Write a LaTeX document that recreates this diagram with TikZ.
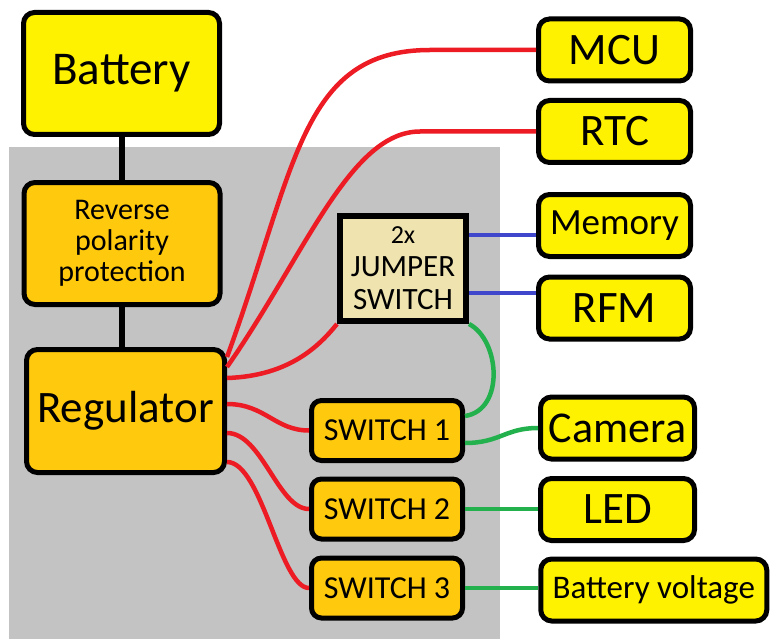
\documentclass[tikz,border=0pt]{standalone}
\usepackage{fontspec}
\setmainfont{Carlito}
\definecolor{pyellow}{HTML}{FFF200}
\definecolor{porange}{HTML}{FFC90E}
\definecolor{pbeige}{HTML}{EFE4B0}
\definecolor{pgray}{HTML}{C3C3C3}
\definecolor{pred}{HTML}{ED1C24}
\definecolor{pblue}{HTML}{3F48CC}
\definecolor{pgreen}{HTML}{22B14C}

\begin{document}
\begin{tikzpicture}[
  x=1pt, y=-1pt,
  blkY/.style={draw, line width=5pt, rounded corners=11pt, fill=pyellow, align=center, inner sep=0pt, minimum width=152pt, minimum height=62pt, font=\fontsize{45}{50}\selectfont},
  blkO/.style={draw, line width=5pt, rounded corners=11pt, fill=porange, align=center, inner sep=0pt, minimum width=196pt, minimum height=122pt},
  swbox/.style={draw, line width=5pt, rounded corners=10pt, fill=porange, align=center, inner sep=0pt, minimum width=151pt, minimum height=60pt, font=\fontsize{32}{34}\selectfont},
  jbox/.style={draw, line width=6pt, fill=pbeige, align=center, inner sep=0pt, minimum width=126pt, minimum height=105pt, font=\fontsize{31}{33}\selectfont},
  link/.style={line width=6pt},
  pwr/.style={line width=4.5pt, pred},
  bus/.style={line width=4.5pt, pblue},
  sig/.style={line width=4.5pt, pgreen},
]
\useasboundingbox (0,0) rectangle (770,639);
% ================= board =================
\fill[pgray] (9,147) rectangle (500,639);
% ================= power chain =================
\node[blkY, minimum width=196pt, minimum height=122pt, font=\fontsize{47}{50}\selectfont] (bat) at (121.5,73.5) {Battery};
\node[blkO, font=\fontsize{30}{31}\selectfont] (rpp) at (122,243.5) {Reverse\\polarity\\protection};
\node[blkO, minimum width=198pt, minimum height=123pt, font=\fontsize{45}{50}\selectfont] (reg) at (125.5,411) {Regulator};
\draw[link] (bat.south) -- (bat.south |- rpp.north);
\draw[link] (rpp.south) -- (rpp.south |- reg.north);
% ================= switches =================
\node[jbox] (jmp) at (403,268.5) {{\fontsize{26}{28}\selectfont 2x}\\[0pt]JUMPER\\SWITCH};
\node[swbox] (sw1) at (387,430.5) {SWITCH 1};
\node[swbox] (sw2) at (387,509) {SWITCH 2};
\node[swbox] (sw3) at (387,588) {SWITCH 3};
% ================= loads =================
\node[blkY] (mcu) at (614.5,50) {MCU};
\node[blkY] (rtc) at (614.5,131.5) {RTC};
\node[blkY, font=\fontsize{37}{40}\selectfont] (mem) at (614.5,225.5) {Memory};
\node[blkY] (rfm) at (614.5,308) {RFM};
\node[blkY, minimum width=154pt, font=\fontsize{44}{48}\selectfont] (cam) at (617.5,428) {Camera};
\node[blkY, minimum width=154pt] (led) at (617.5,509.5) {LED};
\node[blkY, minimum width=226pt, font=\fontsize{33}{36}\selectfont] (bv) at (653.75,590) {Battery voltage};
% ================= supply lines =================
\draw[pwr] (reg.east |- 0,357) .. controls (296,169) and (300,50) .. (430,50) -- (mcu.west);
\draw[pwr] (reg.east |- 0,367) .. controls (305,255) and (350,131.5) .. (420,131.5) -- (rtc.west);
\draw[pwr] (reg.east |- 0,378) .. controls (290,376) and (320,345) .. (jmp.south west);
\draw[pwr] (reg.east |- 0,404) .. controls (265,404) and (275,430.5) .. (sw1.west);
\draw[pwr] (reg.east |- 0,433) .. controls (262,433) and (278,509) .. (sw2.west);
\draw[pwr] (reg.east |- 0,462) .. controls (262,462) and (280,588) .. (sw3.west);
% ================= switched lines =================
\draw[bus] (jmp.east |- 0,235) -- (mem.west |- 0,235);
\draw[bus] (jmp.east |- 0,293) -- (rfm.west |- 0,293);
\draw[sig] (jmp.south east) .. controls (500,340) and (505,410) .. (sw1.east |- 0,416);
\draw[sig] (sw1.east |- 0,443) .. controls (500,443) and (505,428) .. (cam.west);
\draw[sig] (sw2.east) -- (sw2.east -| led.west);
\draw[sig] (sw3.east) -- (sw3.east -| bv.west);
\end{tikzpicture}
\end{document}
